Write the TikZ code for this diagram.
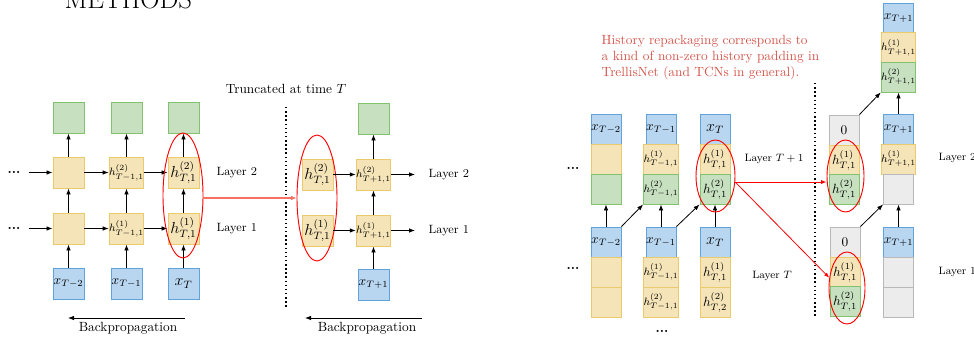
\documentclass[tikz,border=0pt]{standalone}
\usepackage{amsmath}
\usepackage{tikz}
\usetikzlibrary{shapes.geometric,arrows.meta}

\definecolor{xfill}{RGB}{185,214,240}
\definecolor{xline}{RGB}{98,162,218}
\definecolor{hfill}{RGB}{245,228,184}
\definecolor{hline}{RGB}{234,202,110}
\definecolor{gfill}{RGB}{198,224,192}
\definecolor{gline}{RGB}{130,194,110}
\definecolor{zfill}{RGB}{236,236,236}
\definecolor{zline}{RGB}{185,185,185}
\definecolor{salmon}{RGB}{246,112,100}
\definecolor{notered}{RGB}{212,84,74}

\tikzset{
  cell/.style={draw, line width=0.65pt, minimum width=22.5pt, minimum height=22.5pt, inner sep=0pt},
  big/.style={minimum width=23.25pt, minimum height=23.25pt},
  xcell/.style={cell, fill=xfill, draw=xline},
  hcell/.style={cell, fill=hfill, draw=hline},
  gcell/.style={cell, fill=gfill, draw=gline},
  zcell/.style={cell, fill=zfill, draw=zline},
  ring/.style={ellipse, draw=red, line width=0.7pt, inner sep=0pt},
  arr/.style={-{Latex[length=4.5pt,width=3.4pt]}, semithick},
  more/.style={inner sep=1pt, font=\bfseries},
}

\begin{document}
\begin{tikzpicture}[x=0.75pt,y=-0.75pt]
  \useasboundingbox (0,0) rectangle (974,339);
  \clip (0,0) rectangle (974,339);

  \node[anchor=base west, font=\fontsize{20}{24}\selectfont] (title) at (60,8) {METHODS};

  % truncated BPTT, before the cut
  \node[gcell, big] (a3) at (68.5,117.5) {};
  \node[hcell, big] (a2) at (68.5,172.5) {};
  \node[hcell, big] (a1) at (68.5,228.5) {};
  \node[xcell, big] (a0) at (68.5,283.5) {$x_{T-2}$};
  \node[gcell, big] (b3) at (126.5,117.5) {};
  \node[hcell, big, font=\footnotesize] (b2) at (126.5,172.5) {$h^{(2)}_{T-1,1}$};
  \node[hcell, big, font=\footnotesize] (b1) at (126.5,228.5) {$h^{(1)}_{T-1,1}$};
  \node[xcell, big] (b0) at (126.5,283.5) {$x_{T-1}$};
  \node[gcell, big] (c3) at (183.5,117.5) {};
  \node[hcell, big, font=\large] (c2) at (183.5,172.5) {$h^{(2)}_{T,1}$};
  \node[hcell, big, font=\large] (c1) at (183.5,228.5) {$h^{(1)}_{T,1}$};
  \node[xcell, big, font=\large] (c0) at (183.5,283.5) {$x_T$};

  \node[more] (d2) at (14,172.5) {...};
  \node[more] (d1) at (14,228.5) {...};
  \draw[arr, shorten <=5pt] (d2.east) -- (a2);
  \draw[arr, shorten <=5pt] (d1.east) -- (a1);
  \draw[arr] (a2) -- (b2);
  \draw[arr] (b2) -- (c2);
  \draw[arr] (a1) -- (b1);
  \draw[arr] (b1) -- (c1);
  \draw[arr] (a0) -- (a1);
  \draw[arr] (a1) -- (a2);
  \draw[arr] (a2) -- (a3);
  \draw[arr] (b0) -- (b1);
  \draw[arr] (b1) -- (b2);
  \draw[arr] (b2) -- (b3);
  \draw[arr] (c0) -- (c1);
  \draw[arr] (c1) -- (c2);
  \draw[arr] (c2) -- (c3);
  \node[ring, minimum width=30pt, minimum height=93.75pt] (e1) at (183,195.5) {};

  \node[anchor=west, font=\small] (la2) at (212,172.5) {Layer 2};
  \node[anchor=west, font=\small] (la1) at (212,228.5) {Layer 1};

  \coordinate (bpa) at (185,318);
  \coordinate (bpb) at (68,318);
  \draw[arr] (bpa) -- (bpb);
  \node (bpt1) at (128,328) {Backpropagation};

  % the cut
  \node (cut) at (286,89) {Truncated at time $T$};
  \draw[dotted, line width=1.1pt] (286,107) -- (286,307);

  % after the cut
  \node[hcell, big, font=\large] (q2) at (317.5,174.5) {$h^{(2)}_{T,1}$};
  \node[hcell, big, font=\large] (q1) at (317.5,230.5) {$h^{(1)}_{T,1}$};
  \node[gcell, big] (p3) at (373.5,118.5) {};
  \node[hcell, big, font=\footnotesize] (p2) at (373.5,174.5) {$h^{(2)}_{T+1,1}$};
  \node[hcell, big, font=\footnotesize] (p1) at (373.5,230.5) {$h^{(1)}_{T+1,1}$};
  \node[xcell, big] (p0) at (373.5,284.5) {$x_{T+1}$};
  \node[ring, minimum width=30pt, minimum height=94.5pt] (e2) at (317,198) {};

  \coordinate (o2) at (415,174.5);
  \coordinate (o1) at (415,230.5);
  \draw[arr] (q2) -- (p2);
  \draw[arr] (q1) -- (p1);
  \draw[arr] (p0) -- (p1);
  \draw[arr] (p1) -- (p2);
  \draw[arr] (p2) -- (p3);
  \draw[arr] (p2) -- (o2);
  \draw[arr] (p1) -- (o1);
  \node[anchor=west, font=\small] (lb2) at (424,174.5) {Layer 2};
  \node[anchor=west, font=\small] (lb1) at (424,230.5) {Layer 1};

  \draw[salmon, line width=1.2pt, -{Latex[length=4pt,width=3.4pt]}] (e2.west -| e1.east) -- (e2.west);

  \coordinate (bpc) at (422,318);
  \coordinate (bpd) at (305,318);
  \draw[arr] (bpc) -- (bpd);
  \node (bpt2) at (367,328) {Backpropagation};

  % TrellisNet
  \node[anchor=north west, align=left, text=notered] (note) at (597,31)
    {History repackaging corresponds to\\a kind of non-zero history padding in\\TrellisNet (and TCNs in general).};

  \node[xcell] (u1x) at (606,129) {$x_{T-2}$};
  \node[hcell] (u1h) at (606,159) {};
  \node[gcell] (u1g) at (606,189) {};
  \node[xcell] (u2x) at (661,129) {$x_{T-1}$};
  \node[hcell, font=\footnotesize] (u2h) at (661,159) {$h^{(1)}_{T-1,1}$};
  \node[gcell, font=\footnotesize] (u2g) at (661,189) {$h^{(2)}_{T-1,1}$};
  \node[xcell, font=\large] (u3x) at (715,129) {$x_T$};
  \node[hcell] (u3h) at (715,159) {$h^{(1)}_{T,1}$};
  \node[gcell] (u3g) at (715,189) {$h^{(2)}_{T,1}$};

  \node[xcell] (l1x) at (606,242) {$x_{T-2}$};
  \node[hcell] (l1h) at (606,272) {};
  \node[hcell] (l1k) at (606,302) {};
  \node[xcell] (l2x) at (661,242) {$x_{T-1}$};
  \node[hcell, font=\footnotesize] (l2h) at (661,272) {$h^{(1)}_{T-1,1}$};
  \node[hcell, font=\footnotesize] (l2k) at (661,302) {$h^{(2)}_{T-1,1}$};
  \node[xcell, font=\large] (l3x) at (715,242) {$x_T$};
  \node[hcell] (l3h) at (715,272) {$h^{(1)}_{T,1}$};
  \node[hcell] (l3k) at (715,302) {$h^{(2)}_{T,2}$};

  \draw[arr] (l1x) -- (u1g);
  \draw[arr] (l2x) -- (u2g);
  \draw[arr] (l3x) -- (u3g);
  \draw[arr] (l1x.north east) -- (u2g.south west);
  \draw[arr] (l2x.north east) -- (u3g.south west);

  \node[more] (t2) at (573,168) {...};
  \node[more] (t1) at (573,268) {...};
  \node[more] (t0) at (662,331) {...};
  \node[font=\footnotesize] (lc2) at (774,159) {Layer $T+1$};
  \node[font=\footnotesize] (lc1) at (772,276) {Layer $T$};

  \draw[dotted, line width=1.1pt] (815,83) -- (815,318);

  \node[zcell] (z1o) at (844,130) {$0$};
  \node[hcell] (z1h) at (844,160) {$h^{(1)}_{T,1}$};
  \node[gcell] (z1g) at (844,189.5) {$h^{(2)}_{T,1}$};
  \node[zcell] (z2o) at (845,242) {$0$};
  \node[hcell] (z2h) at (845,272) {$h^{(1)}_{T,1}$};
  \node[gcell] (z2g) at (845,301.5) {$h^{(2)}_{T,1}$};

  \node[xcell] (r3x) at (898.5,18) {$x_{T+1}$};
  \node[hcell, font=\footnotesize] (r3h) at (898.5,47.5) {$h^{(1)}_{T+1,1}$};
  \node[gcell, font=\footnotesize] (r3g) at (898.5,77) {$h^{(2)}_{T+1,1}$};
  \node[xcell] (r2x) at (898.5,129) {$x_{T+1}$};
  \node[hcell, font=\footnotesize] (r2h) at (898.5,159) {$h^{(1)}_{T+1,1}$};
  \node[zcell] (r2z) at (898.5,189) {};
  \node[xcell] (r1x) at (898.5,242) {$x_{T+1}$};
  \node[zcell] (r1a) at (898.5,272) {};
  \node[zcell] (r1b) at (898.5,302) {};

  \draw[arr] (z1o.north east) -- (r3g.south west);
  \draw[arr] (r2x) -- (r3g);
  \draw[arr] (z2o.north east) -- (r2z.south west);
  \draw[arr] (r1x) -- (r2z);

  \node[anchor=west, font=\footnotesize] (ld2) at (934,158) {Layer 2};
  \node[anchor=west, font=\footnotesize] (ld1) at (934,272) {Layer 1};

  \node[ring, minimum width=29.25pt, minimum height=54pt] (e3) at (715.5,176) {};
  \node[ring, minimum width=27.75pt, minimum height=54pt] (e4) at (845.5,176) {};
  \node[ring, minimum width=27pt, minimum height=54pt] (e5) at (847,288) {};

  \draw[red, line width=0.6pt, -{Latex[length=4pt,width=3pt]}] (e3.-17) -- (e3.-17 -| e4.west);
  \draw[red, line width=0.6pt, -{Latex[length=4pt,width=3pt]}] (e3.-17) -- (e5.150);
\end{tikzpicture}
\end{document}
